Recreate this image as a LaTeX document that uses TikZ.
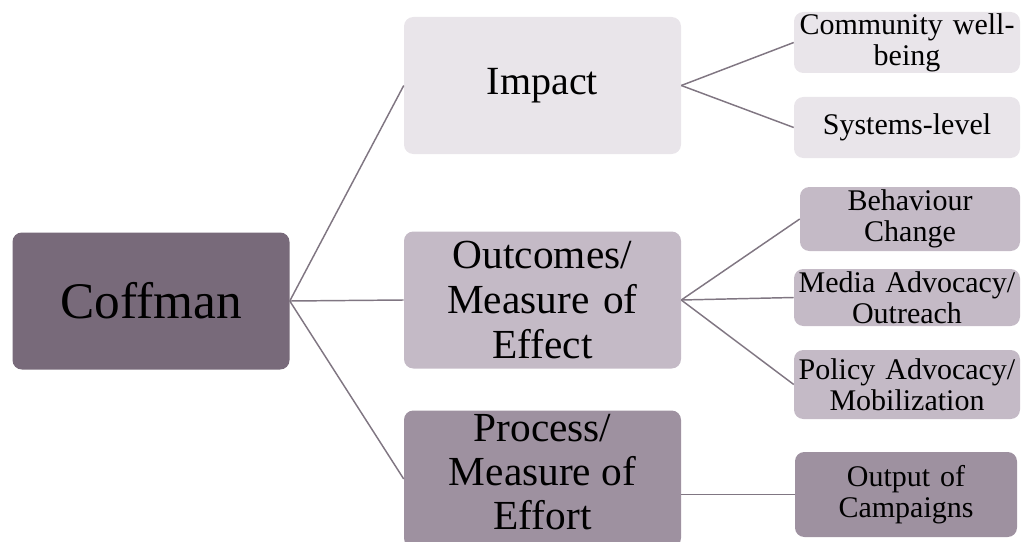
\documentclass[tikz,border=0pt]{standalone}
\usepackage{fontspec}
\setmainfont{Liberation Serif}
\usepackage{tikz}

\definecolor{boxdark}{RGB}{120,106,122}
\definecolor{boxmid}{RGB}{158,145,160}
\definecolor{boxsoft}{RGB}{196,186,198}
\definecolor{boxlight}{RGB}{233,229,234}
\definecolor{linkgray}{RGB}{128,118,130}

\begin{document}
\begin{tikzpicture}[x=0.75pt,y=-0.75pt,
  box/.style={rounded corners=7pt,inner sep=0pt,align=center,text width=#1},
  big/.style={box=207.75pt,minimum height=102.75pt},
  small/.style={box=169.5pt,font=\fontsize{22.5}{23.5}\selectfont},
  link/.style={draw=linkgray,line width=1.1pt}]
\useasboundingbox (0,0) rectangle (1021,542);

\node[big,fill=boxdark,font=\fontsize{38.5}{40}\selectfont] (coffman) at (151,301) {Coffman};
\node[big,fill=boxlight,font=\fontsize{30}{34}\selectfont] (impact) at (542.5,85.5) {Impact};
\node[big,fill=boxsoft,font=\fontsize{31}{34}\selectfont] (outcomes) at (542.5,300) {Outcomes/\\Measure of\\Effect};
\node[big,fill=boxmid,label={[name=processtext,align=center,inner sep=0pt,yshift=5pt,font=\fontsize{31}{33}\selectfont]center:Process/\\Measure of\\Effort}] (process) at (542.5,479) {};

\node[small,fill=boxlight,minimum height=45.75pt] (community) at (907,42.5) {Community well-\\being};
\node[small,fill=boxlight,minimum height=45.75pt] (systems) at (907,127.5) {Systems-level};
\node[small,fill=boxsoft,text width=165pt,minimum height=48pt] (behaviour) at (910,219) {Behaviour\\Change};
\node[small,fill=boxsoft,minimum height=42.75pt] (media) at (907,297.5) {Media Advocacy/\\Outreach};
\node[small,fill=boxsoft,minimum height=51.75pt] (policy) at (907,384.5) {Policy Advocacy/\\Mobilization};
\node[small,fill=boxmid,text width=166.5pt,minimum height=63.75pt] (output) at (906,494.5) {Output of\\Campaigns};

\draw[link] (coffman.east) -- (impact.west);
\draw[link] (coffman.east) -- (outcomes.west);
\draw[link] (coffman.east) -- (process.west);
\draw[link] (impact.east) -- (community.west);
\draw[link] (impact.east) -- (systems.west);
\draw[link] (outcomes.east) -- (behaviour.west);
\draw[link] (outcomes.east) -- (media.west);
\draw[link] (outcomes.east) -- (policy.west);
\draw[link] (process.east |- output.west) -- (output.west);
\end{tikzpicture}
\end{document}
